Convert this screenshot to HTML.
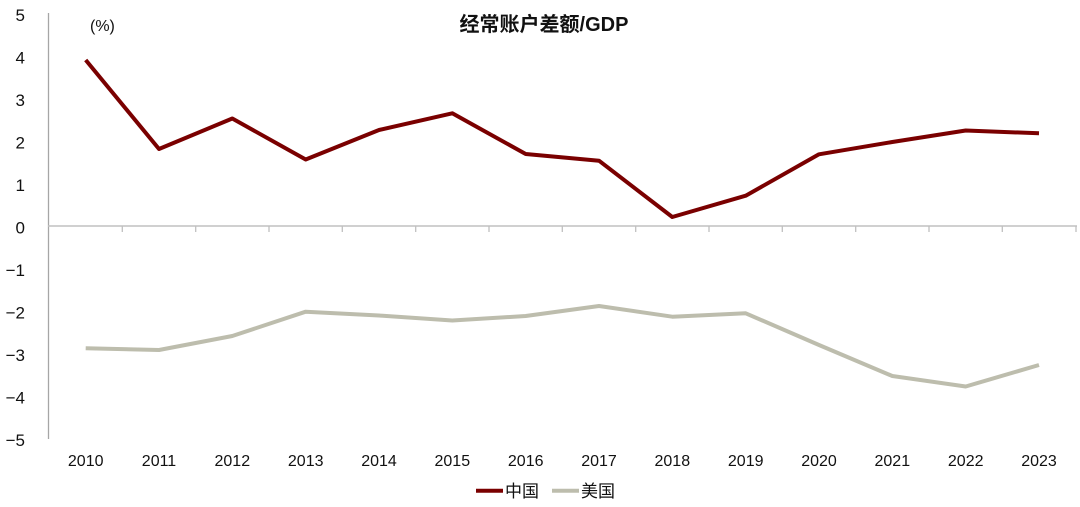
<!DOCTYPE html>
<html><head><meta charset="utf-8"><style>
html,body{margin:0;padding:0;background:#fff;}
svg{display:block;}
text{font-family:"Liberation Sans","Noto Sans CJK SC",sans-serif;fill:#111;}
</style></head><body>
<svg width="1080" height="507" viewBox="0 0 1080 507" xmlns="http://www.w3.org/2000/svg">
<text x="544" y="31" font-size="20" font-weight="bold" text-anchor="middle" font-family="Liberation Sans, Noto Sans CJK SC, sans-serif">经常账户差额/GDP</text>
<text x="90" y="31" font-size="16">(%)</text>
<!-- y axis labels -->
<g font-size="17" text-anchor="end">
<text x="25" y="21">5</text>
<text x="25" y="63.5">4</text>
<text x="25" y="106">3</text>
<text x="25" y="148.5">2</text>
<text x="25" y="191">1</text>
<text x="25" y="233.5">0</text>
<text x="25" y="276">−1</text>
<text x="25" y="318.5">−2</text>
<text x="25" y="361">−3</text>
<text x="25" y="403.5">−4</text>
<text x="25" y="446">−5</text>
</g>
<!-- axes -->
<line x1="48.5" y1="13" x2="48.5" y2="439" stroke="#a6a6a6" stroke-width="1.3"/>
<line x1="48" y1="226" x2="1077" y2="226" stroke="#c0c0c0" stroke-width="1.5"/>
<g stroke="#c0c0c0" stroke-width="1.3">
<line x1="122.3" y1="226" x2="122.3" y2="232"/>
<line x1="195.7" y1="226" x2="195.7" y2="232"/>
<line x1="269" y1="226" x2="269" y2="232"/>
<line x1="342.3" y1="226" x2="342.3" y2="232"/>
<line x1="415.7" y1="226" x2="415.7" y2="232"/>
<line x1="489" y1="226" x2="489" y2="232"/>
<line x1="562.3" y1="226" x2="562.3" y2="232"/>
<line x1="635.7" y1="226" x2="635.7" y2="232"/>
<line x1="709" y1="226" x2="709" y2="232"/>
<line x1="782.3" y1="226" x2="782.3" y2="232"/>
<line x1="855.7" y1="226" x2="855.7" y2="232"/>
<line x1="929" y1="226" x2="929" y2="232"/>
<line x1="1002.3" y1="226" x2="1002.3" y2="232"/>
<line x1="1076" y1="226" x2="1076" y2="232"/>
</g>
<!-- x labels -->
<g font-size="16" text-anchor="middle">
<text x="85.7" y="466">2010</text>
<text x="159" y="466">2011</text>
<text x="232.3" y="466">2012</text>
<text x="305.7" y="466">2013</text>
<text x="379" y="466">2014</text>
<text x="452.3" y="466">2015</text>
<text x="525.7" y="466">2016</text>
<text x="599" y="466">2017</text>
<text x="672.3" y="466">2018</text>
<text x="745.7" y="466">2019</text>
<text x="819" y="466">2020</text>
<text x="892.3" y="466">2021</text>
<text x="965.7" y="466">2022</text>
<text x="1039" y="466">2023</text>
</g>
<!-- China -->
<polyline fill="none" stroke="#7a0000" stroke-width="4" stroke-linejoin="round" points="85.7,60 159,149 232.3,118.5 305.7,159.5 379,130 452.3,113.3 525.7,154 599,160.7 672.3,217 745.7,195.7 819,154.3 892.3,142 965.7,130.5 1039,133.3"/>
<!-- US -->
<polyline fill="none" stroke="#bdbdad" stroke-width="4" stroke-linejoin="round" points="85.7,348.3 159,350 232.3,336 305.7,311.7 379,315.5 452.3,320.5 525.7,316 599,306 672.3,316.7 745.7,313.3 819,345 892.3,376 965.7,386.5 1039,365"/>
<!-- legend -->
<line x1="476" y1="490.7" x2="503" y2="490.7" stroke="#7a0000" stroke-width="4"/>
<text x="505" y="497" font-size="17">中国</text>
<line x1="552" y1="490.7" x2="579" y2="490.7" stroke="#bdbdad" stroke-width="4"/>
<text x="581" y="497" font-size="17">美国</text>
</svg>
</body></html>
